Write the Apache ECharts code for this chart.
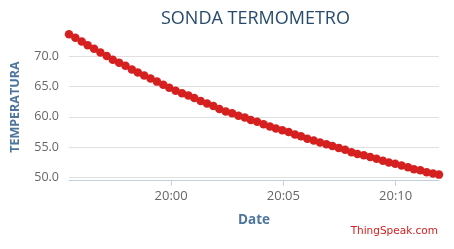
<!DOCTYPE html>
<html><head><meta charset="utf-8">
<script src="https://cdn.jsdelivr.net/npm/echarts@6/dist/echarts.min.js"></script>
<style>html,body{margin:0;padding:0;background:#fff}#c{width:454px;height:249px}</style>
</head><body><div id="c"></div>
<script>
const times = ["19:55:27","19:55:44","19:56:01","19:56:17","19:56:34","19:56:51","19:57:08","19:57:24","19:57:41","19:57:58",
"19:58:15","19:58:31","19:58:48","19:59:05","19:59:22","19:59:39","19:59:55","20:00:12","20:00:29","20:00:46",
"20:01:02","20:01:19","20:01:36","20:01:53","20:02:09","20:02:26","20:02:43","20:03:00","20:03:17","20:03:33",
"20:03:50","20:04:07","20:04:24","20:04:40","20:04:57","20:05:14","20:05:31","20:05:47","20:06:04","20:06:21",
"20:06:38","20:06:55","20:07:11","20:07:28","20:07:45","20:08:02","20:08:18","20:08:35","20:08:52","20:09:09",
"20:09:26","20:09:42","20:09:59","20:10:16","20:10:33","20:10:49","20:11:06","20:11:23","20:11:40","20:11:56"];
const temperatures = [73.6,73.0,72.4,71.8,71.2,70.6,70.0,69.4,68.9,68.4,
67.8,67.3,66.8,66.3,65.8,65.3,64.8,64.3,63.9,63.5,
63.1,62.6,62.2,61.8,61.3,60.9,60.6,60.2,59.9,59.5,
59.2,58.8,58.4,58.1,57.8,57.5,57.1,56.8,56.4,56.1,
55.8,55.5,55.2,54.9,54.6,54.2,53.9,53.7,53.4,53.1,
52.8,52.5,52.3,52.0,51.7,51.4,51.2,50.9,50.7,50.5];
const xTickLabels = ["20:00","20:05","20:10"];
const yTickValues = [50,55,60,65,70];

// seconds since midnight
function toSec(s){const p=s.split(':').map(Number);return p[0]*3600+p[1]*60+(p[2]||0);}
const pad=n=>String(n).padStart(2,'0');
const data = times.map((t,i)=>[toSec(t),temperatures[i]]);
const xTicks = xTickLabels.map(toSec);

const chart = echarts.init(document.getElementById('c'),null,{renderer:'canvas'});
chart.setOption({
  animation:false,
  title:{text:'SONDA TERMOMETRO',left:156,top:5,
    textStyle:{fontFamily:'Open Sans',fontSize:18,fontWeight:'normal',color:'#274b6d'}},
  grid:{left:69,right:15,top:33.6,height:147.1,containLabel:false},
  xAxis:{type:'value',min:data[0][0],max:data[data.length-1][0],
    name:'Date',nameLocation:'middle',nameGap:32,
    nameTextStyle:{fontFamily:'Open Sans',fontSize:13.5,fontWeight:'bold',color:'#4d759e'},
    axisLine:{lineStyle:{color:'#c0d0e0',width:1}},
    axisTick:{customValues:xTicks,length:5,lineStyle:{color:'#c0d0e0'}},
    axisLabel:{customValues:xTicks,margin:9,fontFamily:'Open Sans',fontSize:13,color:'#666',
      formatter:v=>pad(Math.floor(v/3600))+':'+pad(Math.floor((v%3600)/60))},
    splitLine:{show:false}},
  yAxis:{type:'value',min:49.5,max:73.7,
    name:'TEMPERATURA',nameLocation:'middle',nameGap:47,nameRotate:90,
    nameTextStyle:{fontFamily:'Open Sans',fontSize:12.5,fontWeight:'bold',color:'#4d759e'},
    axisLine:{show:false},
    axisTick:{show:false,customValues:yTickValues},
    axisLabel:{customValues:yTickValues,margin:10,fontFamily:'Open Sans',fontSize:12.5,color:'#666',
      formatter:v=>v.toFixed(1)},
    splitLine:{show:true,lineStyle:{color:'#e0e0e0',width:1}}},
  series:[{type:'line',data:data,symbol:'circle',symbolSize:8.5,showSymbol:true,
    itemStyle:{color:'#d62020'},lineStyle:{color:'#d62020',width:2}}],
  graphic:[{type:'text',right:16,top:226,style:{text:'ThingSpeak.com',fill:'#d62020',
    font:'10.5px "DejaVu Sans", sans-serif'}}]
});
</script></body></html>
